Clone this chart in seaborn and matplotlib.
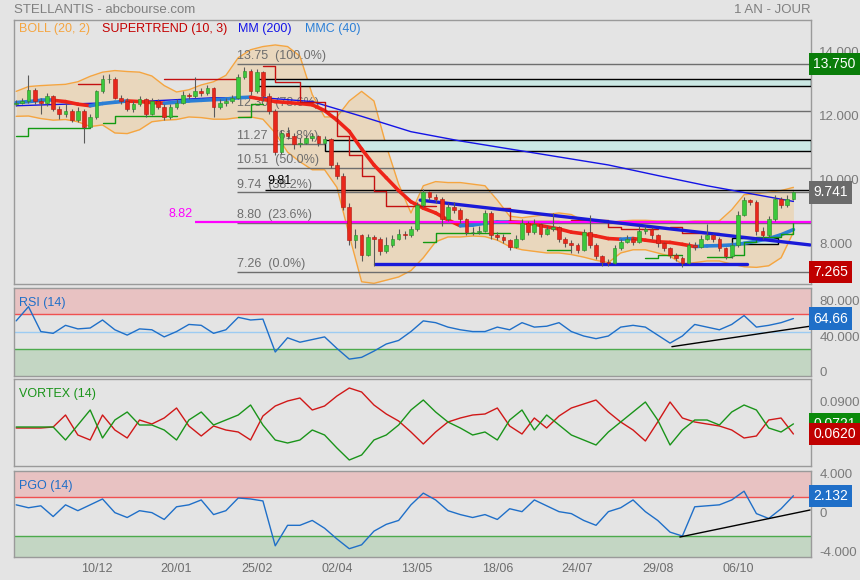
import matplotlib
matplotlib.use('Agg')
import matplotlib.pyplot as plt
import matplotlib.patches as patches
from matplotlib.transforms import ScaledTranslation
import numpy as np
import seaborn as sns

sns.set_style('white')
plt.rcParams['font.family'] = ['Liberation Sans', 'DejaVu Sans']
plt.rcParams['axes.unicode_minus'] = False

BG = '#e4e4e4'

# ---- daily candles (2-day steps) ----
opens = [12.50, 12.55, 12.60, 12.95, 12.60, 12.55, 12.75, 12.35, 12.20, 12.30,
         12.00, 12.30, 11.80, 12.10, 12.90, 13.30, 13.30, 12.70, 12.60, 12.35,
         12.50, 12.65, 12.20, 12.60, 12.40, 12.10, 12.40, 12.55, 12.80, 12.75,
         12.90, 12.85, 13.00, 12.40, 12.55, 12.60, 12.70, 13.35, 13.55, 12.90,
         13.50, 12.75, 12.30, 11.00, 11.60, 11.50, 11.25, 11.30, 11.45, 11.50,
         11.30, 11.40, 10.60, 10.27, 9.30, 8.26, 8.40, 7.80, 8.35, 8.30,
         7.90, 8.10, 8.30, 8.45, 8.40, 8.60, 9.36, 9.77, 9.60, 9.55,
         8.90, 9.30, 9.20, 8.90, 8.50, 8.50, 8.55, 9.10, 8.40, 8.36,
         8.25, 8.05, 8.30, 8.80, 8.50, 8.76, 8.45, 8.60, 8.65, 8.30,
         8.15, 8.10, 7.95, 8.50, 8.10, 7.75, 7.57, 7.55, 8.00, 8.20,
         8.30, 8.20, 8.55, 8.60, 8.40, 8.15, 8.00, 7.80, 7.70, 7.55,
         8.10, 8.05, 8.30, 8.40, 8.30, 8.00, 7.75, 8.10, 9.05, 9.50,
         9.45, 8.55, 8.40, 8.90, 9.55, 9.35, 9.55]
closes = [12.55, 12.60, 12.95, 12.60, 12.55, 12.75, 12.35, 12.20, 12.30, 12.00,
          12.30, 11.80, 12.10, 12.90, 13.30, 13.30, 12.70, 12.60, 12.35, 12.50,
          12.65, 12.20, 12.60, 12.40, 12.10, 12.40, 12.55, 12.80, 12.75, 12.90,
          12.85, 13.00, 12.40, 12.55, 12.60, 12.70, 13.35, 13.55, 12.90, 13.50,
          12.75, 12.30, 11.00, 11.60, 11.50, 11.25, 11.30, 11.45, 11.50, 11.30,
          11.40, 10.60, 10.27, 9.30, 8.26, 8.40, 7.80, 8.35, 8.30, 7.90,
          8.10, 8.30, 8.45, 8.40, 8.60, 9.36, 9.77, 9.60, 9.55, 8.90,
          9.30, 9.20, 8.90, 8.50, 8.50, 8.55, 9.10, 8.40, 8.36, 8.25,
          8.05, 8.30, 8.80, 8.50, 8.76, 8.45, 8.60, 8.65, 8.30, 8.15,
          8.10, 7.95, 8.50, 8.10, 7.75, 7.57, 7.55, 8.00, 8.20, 8.30,
          8.20, 8.55, 8.60, 8.40, 8.15, 8.00, 7.80, 7.70, 7.55, 8.10,
          8.05, 8.30, 8.40, 8.30, 8.00, 7.75, 8.10, 9.05, 9.50, 9.45,
          8.55, 8.40, 8.90, 9.55, 9.35, 9.55, 9.74]
highs = [12.62, 12.68, 13.40, 13.00, 12.70, 12.85, 12.80, 12.45, 12.55, 12.35,
         12.40, 12.35, 12.20, 12.95, 13.40, 13.45, 13.35, 12.80, 12.70, 12.60,
         12.75, 12.70, 12.70, 12.65, 12.50, 12.50, 12.65, 12.90, 12.85, 13.35,
         13.00, 13.10, 13.05, 12.65, 12.70, 12.80, 13.45, 13.65, 13.60, 13.60,
         13.55, 12.85, 12.35, 11.70, 11.80, 11.60, 11.45, 11.55, 11.60, 11.55,
         11.50, 11.45, 10.70, 10.35, 9.40, 8.60, 8.45, 8.45, 8.40, 8.35,
         8.35, 8.40, 8.60, 8.55, 8.70, 9.45, 9.85, 9.80, 9.70, 9.60,
         9.40, 9.45, 9.25, 8.95, 8.65, 8.70, 9.20, 9.15, 8.50, 8.45,
         8.30, 8.40, 8.90, 8.85, 8.90, 8.80, 8.70, 9.10, 8.70, 8.35,
         8.25, 8.15, 8.60, 9.05, 8.15, 7.80, 7.65, 8.10, 8.30, 8.40,
         8.35, 8.70, 8.70, 8.65, 8.45, 8.20, 8.05, 7.85, 7.75, 8.20,
         8.20, 8.40, 8.75, 8.45, 8.35, 8.05, 8.20, 9.15, 9.60, 9.55,
         9.50, 8.65, 9.00, 9.65, 9.60, 9.65, 9.80]
lows = [12.45, 12.50, 12.55, 12.50, 12.20, 12.45, 12.30, 12.05, 12.10, 11.95,
        11.95, 11.30, 11.75, 12.05, 12.85, 13.15, 12.65, 12.50, 12.30, 12.25,
        12.45, 12.10, 12.15, 12.35, 12.00, 12.05, 12.35, 12.50, 12.65, 12.70,
        12.75, 12.80, 12.10, 12.35, 12.45, 12.55, 12.65, 13.30, 12.80, 12.85,
        12.60, 12.20, 10.90, 10.95, 11.40, 11.10, 11.15, 11.25, 11.35, 11.20,
        11.25, 10.50, 10.15, 9.20, 8.10, 8.00, 7.60, 7.75, 7.45, 7.80,
        7.85, 8.05, 8.25, 8.30, 8.35, 8.55, 9.30, 9.50, 9.40, 8.70,
        8.85, 9.10, 8.80, 8.40, 8.40, 8.45, 8.50, 8.30, 8.25, 8.15,
        7.95, 8.00, 8.25, 8.40, 8.45, 8.35, 8.40, 8.55, 8.20, 8.05,
        7.85, 7.85, 7.90, 8.00, 7.65, 7.45, 7.45, 7.50, 7.95, 8.15,
        8.10, 8.15, 8.45, 8.30, 8.05, 7.90, 7.70, 7.60, 7.42, 7.50,
        7.95, 8.00, 8.25, 8.20, 7.90, 7.65, 7.70, 8.05, 9.00, 9.35,
        8.40, 8.30, 8.35, 8.85, 9.25, 9.30, 9.50]

# ---- indicator series on a 4-day grid ----
grid = list(range(0, 127, 2))
boll_up = [12.9, 13.05, 13.08, 13.1, 13.12, 13.2, 13.37, 13.5, 13.55, 13.52,
           13.5, 13.38, 13.08, 12.88, 12.95, 13.1, 13.2, 13.4, 13.95, 14.2,
           14.3, 14.35, 14.3, 14.0, 12.8, 12.1, 12.1, 12.6, 12.9, 12.6,
           11.2, 10.0, 9.1, 9.95, 10.08, 10.05, 10.05, 10.0, 9.95, 9.5,
           9.0, 8.95, 9.0, 9.05, 9.1, 9.05, 8.85, 8.8, 8.8, 8.85,
           8.87, 8.87, 8.85, 8.85, 8.82, 8.85, 8.85, 8.85, 9.2, 9.67,
           9.7, 9.75, 9.8, 9.9]
boll_dn = [12.12, 12.13, 12.05, 12.0, 12.02, 11.95, 11.8, 11.85, 11.6, 11.58,
           11.7, 11.95, 12.0, 12.02, 12.1, 12.08, 12.03, 12.03, 12.08, 12.1,
           12.03, 11.6, 11.0, 10.7, 10.45, 10.45, 9.9, 8.4, 6.95, 6.9,
           7.0, 7.1, 7.3, 7.7, 8.2, 8.35, 8.35, 8.38, 8.36, 8.25,
           8.05, 7.95, 7.9, 7.85, 7.85, 7.8, 7.72, 7.62, 7.55, 7.85,
           7.95, 7.95, 7.85, 7.75, 7.5, 7.55, 7.6, 7.6, 7.5, 7.42,
           7.4, 7.45, 7.7, 8.5]
mmc40 = [12.55, 12.58, 12.62, 12.62, 12.58, 12.5, 12.45, 12.52, 12.56, 12.6,
         12.58, 12.55, 12.53, 12.56, 12.6, 12.62, 12.64, 12.66, 12.7, 12.72,
         12.65, 12.58, 12.55, 12.52, 12.48, 12.3, 12.0, 11.65, 11.1, 10.6,
         10.2, 9.8, 9.45, 9.25, 9.1, 8.88, 8.7, 8.72, 8.78, 8.82,
         8.82, 8.8, 8.75, 8.67, 8.6, 8.5, 8.45, 8.38, 8.3, 8.28,
         8.3, 8.25, 8.2, 8.18, 8.12, 8.05, 8.07, 8.08, 8.1, 8.15,
         8.22, 8.3, 8.42, 8.58]
nan = np.nan
st_up = [11.5, 11.74, 11.74, 11.74, 11.74, 11.74, nan, 11.9, 12.12, 12.12,
         12.12, 12.12, 12.12, nan, nan, nan, nan, nan, 12.1, 12.5,
         nan, nan, nan, nan, nan, nan, nan, nan, nan, nan,
         nan, nan, nan, 8.2, 8.48, 8.48, 8.48, 8.48, 8.48, 8.48,
         nan, nan, nan, 7.95, 7.95, nan, nan, nan, nan, nan,
         nan, 7.7, 7.8, 7.8, nan, nan, 7.73, 7.73, 7.8, 8.2,
         8.36, 8.36, 8.45, 8.8]
st_dn = [nan, nan, nan, nan, nan, 13.12, 13.12, nan, nan, nan,
         nan, nan, 13.28, 13.28, 13.28, 13.28, 13.28, 13.28, nan, nan,
         13.68, 13.2, 13.2, 12.56, 12.56, 12.28, 11.5, 10.9, 10.24, 9.8,
         9.33, 9.33, 9.33, 9.33, nan, nan, nan, nan, nan, 9.27,
         8.86, 8.86, 8.86, 8.86, nan, 8.88, 8.88, 8.88, 8.67, 8.6,
         8.6, 8.6, nan, 8.65, 8.48, 8.48, 8.48, nan, nan, nan,
         nan, nan, nan, nan]
mm200_x = [0, 8, 16, 24, 32, 40, 48, 56, 64, 72, 80, 88, 96, 104, 112, 120, 126]
mm200 = [12.45, 12.5, 12.55, 12.62, 12.7, 12.7, 12.58, 12.12, 11.64, 11.35,
         11.1, 10.85, 10.6, 10.27, 9.95, 9.67, 9.46]

rsi = [62, 78, 50, 48, 57, 53, 54, 63, 52, 46,
       53, 52, 44, 50, 58, 57, 48, 52, 66, 63,
       64, 27, 43, 38, 41, 44, 31, 19, 21, 28,
       36, 40, 50, 62, 60, 55, 52, 50, 50, 55,
       52, 60, 55, 56, 60, 50, 45, 42, 45, 55,
       57, 55, 46, 37, 45, 58, 55, 52, 58, 68,
       55, 57, 60, 64.66]
vi_plus = [0.069, 0.069, 0.069, 0.069, 0.056, 0.071, 0.086, 0.058, 0.076, 0.084,
           0.071, 0.071, 0.066, 0.056, 0.076, 0.084, 0.071, 0.076, 0.081, 0.091,
           0.071, 0.056, 0.053, 0.056, 0.066, 0.061, 0.048, 0.036, 0.041, 0.056,
           0.061, 0.071, 0.086, 0.096, 0.084, 0.074, 0.068, 0.061, 0.064, 0.056,
           0.076, 0.086, 0.066, 0.081, 0.071, 0.061, 0.056, 0.051, 0.064, 0.074,
           0.084, 0.094, 0.076, 0.051, 0.066, 0.076, 0.076, 0.071, 0.084, 0.091,
           0.086, 0.068, 0.064, 0.0721]
vi_minus = [0.068, 0.068, 0.068, 0.069, 0.081, 0.061, 0.056, 0.081, 0.066, 0.058,
            0.076, 0.072, 0.078, 0.088, 0.07, 0.06, 0.07, 0.066, 0.064, 0.056,
            0.08, 0.09, 0.095, 0.098, 0.086, 0.09, 0.1, 0.108, 0.104, 0.091,
            0.082, 0.075, 0.064, 0.052, 0.064, 0.074, 0.078, 0.081, 0.082, 0.088,
            0.07, 0.062, 0.078, 0.068, 0.08, 0.088, 0.092, 0.096, 0.084, 0.074,
            0.066, 0.055, 0.074, 0.094, 0.078, 0.074, 0.072, 0.07, 0.066, 0.058,
            0.06, 0.076, 0.078, 0.062]
pgo = [1.2, 0.9, 1.1, 0.0, 1.2, 0.6, 1.2, 1.8, 0.4, -0.1,
       0.6, 0.4, -0.3, 1.0, 1.2, 1.7, 0.2, 0.6, 1.9, 1.8,
       1.6, -3.0, -0.9, -0.9, -0.4, -1.2, -2.3, -3.3, -2.9, -1.5,
       -0.8, -0.4, 1.2, 2.4, 1.7, 0.6, 0.2, -0.1, 0.2, -0.3,
       0.8, 0.5, 1.7, 1.1, 0.5, 0.3, -0.4, -0.9, 0.5, 0.9,
       1.7, 0.5, -0.4, -1.6, -2.0, 1.0, 1.1, 1.2, 1.7, 2.6,
       0.3, -0.2, 0.8, 2.132]

date_pos = [13, 26, 39, 52, 65, 78, 91, 104, 117]
date_labels = ['10/12', '20/01', '25/02', '02/04', '13/05', '18/06', '24/07', '29/08', '06/10']

fib_levels = [13.75, 12.30, 11.27, 10.51, 9.74, 8.80, 7.26]
fib_pct = ['100.0%', '78.6%', '61.8%', '50.0%', '38.2%', '23.6%', '0.0%']

XMIN, XMAX = -0.35, 128.85

fig = plt.figure(figsize=(8.6, 5.8), dpi=100, facecolor=BG)
L, W = 14 / 860, 797 / 860
ax = fig.add_axes([L, 1 - 284 / 580, W, 264 / 580])
ax_rsi = fig.add_axes([L, 1 - 376 / 580, W, 88 / 580])
ax_vx = fig.add_axes([L, 1 - 466 / 580, W, 87 / 580])
ax_pgo = fig.add_axes([L, 1 - 557 / 580, W, 86 / 580])

for a in (ax, ax_rsi, ax_vx, ax_pgo):
    a.set_facecolor(BG)
    a.set_xlim(XMIN, XMAX)
    for s in a.spines.values():
        s.set_color('#9a9a9a')
        s.set_linewidth(1)
    a.yaxis.tick_right()
    a.tick_params(axis='y', length=0, pad=6, labelcolor='#7a7a7a', labelsize=9.5)
    a.tick_params(axis='x', length=0)
    a.set_xlabel('')
    a.set_ylabel('')


def lift_labels(a):
    # right-hand labels sit a little above their level, as on the site
    for lab in a.get_yticklabels():
        lab.set_transform(lab.get_transform() + ScaledTranslation(0, 3 / 72, fig.dpi_scale_trans))


def tag(a, v, txt, fc):
    a.text(1.003, v, txt, transform=a.get_yaxis_transform(), ha='left', va='center',
           color='white', fontsize=10, clip_on=False, zorder=20,
           bbox=dict(boxstyle='square,pad=0.3', fc=fc, ec='none'))


# ---- main panel ----
ax.set_ylim(6.88, 15.13)
ax.fill_between(grid, boll_dn, boll_up, color='#e9d7bd', lw=0, zorder=1)
sns.lineplot(x=grid, y=boll_up, ax=ax, color='#f5a540', lw=1, zorder=2)
sns.lineplot(x=grid, y=boll_dn, ax=ax, color='#f5a540', lw=1, zorder=2)

fx0 = 35.8
for lv, pc in zip(fib_levels, fib_pct):
    ax.hlines(lv, fx0, XMAX, color='#6e6e6e', lw=1, zorder=2)
    ax.text(fx0, lv + 0.06, f'{lv:.2f}  ({pc})', color='#6e6e6e', fontsize=9, va='bottom', zorder=3)

ax.hlines(9.81, 40.4, XMAX, color='black', lw=1, zorder=3)
ax.text(40.7, 9.92, '9.81', color='black', fontsize=9, va='bottom', zorder=3)
ax.hlines(8.82, 29.0, XMAX, color='#ff00ff', lw=1.6, zorder=6)
ax.text(28.6, 8.88, '8.82', color='#ff00ff', fontsize=9, ha='right', va='bottom')

for x0, y0, x1, y1 in [(39.0, 13.06, XMAX, 13.28), (50.1, 11.05, XMAX, 11.37), (116.0, 8.14, 123.5, 8.33)]:
    ax.add_patch(patches.Rectangle((x0, y0), x1 - x0, y1 - y0, fc='#cbe8e4', ec='black', lw=1, zorder=4))

sns.lineplot(x=mm200_x, y=mm200, ax=ax, color='#1414e6', lw=1, zorder=5)
for j in range(len(grid) - 1):
    col = '#2b7fd6' if mmc40[j + 1] >= mmc40[j] else '#ee2418'
    ax.plot(grid[j:j + 2], mmc40[j:j + 2], color=col, lw=2.6, solid_capstyle='round', zorder=5)
ax.plot(grid, st_dn, drawstyle='steps-post', color='#c41010', lw=1, zorder=5)
ax.plot(grid, st_up, drawstyle='steps-post', color='#129a12', lw=1, zorder=5)

ax.plot([65.5, 128.7], [9.5, 8.1], color='#1a1ad8', lw=2.4, zorder=6)
ax.plot([58.2, 118.5], [7.5, 7.5], color='#1a1ad8', lw=2.4, zorder=6)

xs = np.arange(len(closes))
ax.vlines(xs, lows, highs, color='#5a5a5a', lw=0.8, zorder=7)
o = np.array(opens)
c = np.array(closes)
up = c >= o
ax.bar(xs[up], (c - o)[up], bottom=o[up], width=0.6, color='#3cc83c', edgecolor='#2a8a2a', lw=0.4, zorder=8)
ax.bar(xs[~up], (c - o)[~up], bottom=o[~up], width=0.6, color='#e8281c', edgecolor='#b01810', lw=0.4, zorder=8)

ax.set_yticks([14, 12, 10, 8])
ax.set_yticklabels(['14.000', '12.000', '10.000', '8.000'])
ax.set_xticks([])
lift_labels(ax)
tag(ax, 13.75, '13.750', '#0a7d0a')
tag(ax, 9.741, '9.741', '#6b6b6b')
tag(ax, 7.265, '7.265', '#c00000')

# ---- RSI ----
ax_rsi.set_ylim(0, 99)
ax_rsi.axhspan(70, 99, color='#e8c2c2', lw=0)
ax_rsi.axhspan(0, 30, color='#c3d6c3', lw=0)
ax_rsi.axhline(70, color='#f05050', lw=1)
ax_rsi.axhline(30, color='#4caa4c', lw=1)
ax_rsi.axhline(50, color='#9ccbf2', lw=1)
sns.lineplot(x=grid, y=rsi, ax=ax_rsi, color='#1f6fc8', lw=1)
ax_rsi.plot([106.3, 128.7], [33, 56], color='black', lw=1)
ax_rsi.set_yticks([80, 40, 0])
ax_rsi.set_yticklabels(['80.000', '40.000', '0'])
ax_rsi.set_xticks([])
lift_labels(ax_rsi)
ax_rsi.text(0.006, 0.9, 'RSI (14)', transform=ax_rsi.transAxes, color='#1f6fc8', fontsize=9, va='top')
tag(ax_rsi, 64.66, '64.66', '#1f6fc8')

# ---- VORTEX ----
ax_vx.set_ylim(0.030, 0.117)
sns.lineplot(x=grid, y=vi_minus, ax=ax_vx, color='#d01818', lw=1)
sns.lineplot(x=grid, y=vi_plus, ax=ax_vx, color='#1a941a', lw=1)
ax_vx.set_yticks([0.09, 0.06])
ax_vx.set_yticklabels(['0.0900', '0.0600'])
ax_vx.set_xticks([])
lift_labels(ax_vx)
ax_vx.text(0.006, 0.9, 'VORTEX (14)', transform=ax_vx.transAxes, color='#1a941a', fontsize=9, va='top')
tag(ax_vx, 0.0721, '0.0721', '#0a8a0a')
tag(ax_vx, 0.0620, '0.0620', '#c00000')

# ---- PGO ----
ax_pgo.set_ylim(-4.15, 4.67)
ax_pgo.axhspan(2, 4.67, color='#e8c2c2', lw=0)
ax_pgo.axhspan(-4.15, -2, color='#c3d6c3', lw=0)
ax_pgo.axhline(2, color='#f05050', lw=1)
ax_pgo.axhline(-2, color='#4caa4c', lw=1)
sns.lineplot(x=grid, y=pgo, ax=ax_pgo, color='#1f6fc8', lw=1)
ax_pgo.plot([107.6, 128.7], [-2.1, 0.67], color='black', lw=1)
ax_pgo.set_yticks([4, 0, -4])
ax_pgo.set_yticklabels(['4.000', '0', '-4.000'])
lift_labels(ax_pgo)
ax_pgo.set_xticks(date_pos)
ax_pgo.set_xticklabels(date_labels)
ax_pgo.tick_params(axis='x', labelcolor='#6e6e6e', labelsize=9, pad=4)
ax_pgo.text(0.006, 0.9, 'PGO (14)', transform=ax_pgo.transAxes, color='#1f6fc8', fontsize=9, va='top')
tag(ax_pgo, 2.132, '2.132', '#1f6fc8')

# ---- titles and legend ----
fig.text(14 / 860, 1 - 10 / 580, 'STELLANTIS - abcbourse.com', color='#7f7f7f', fontsize=9.5, va='center')
fig.text(811 / 860, 1 - 10 / 580, '1 AN - JOUR', color='#7f7f7f', fontsize=9.5, va='center', ha='right')
for px, txt, col in [(19, 'BOLL (20, 2)', '#f5a540'), (102, 'SUPERTREND (10, 3)', '#c40000'),
                     (238, 'MM (200)', '#1414e6'), (305, 'MMC (40)', '#2b7fd6')]:
    fig.text(px / 860, 1 - 29 / 580, txt, color=col, fontsize=9, va='center')

fig.savefig('out.png', dpi=100, facecolor=BG)
